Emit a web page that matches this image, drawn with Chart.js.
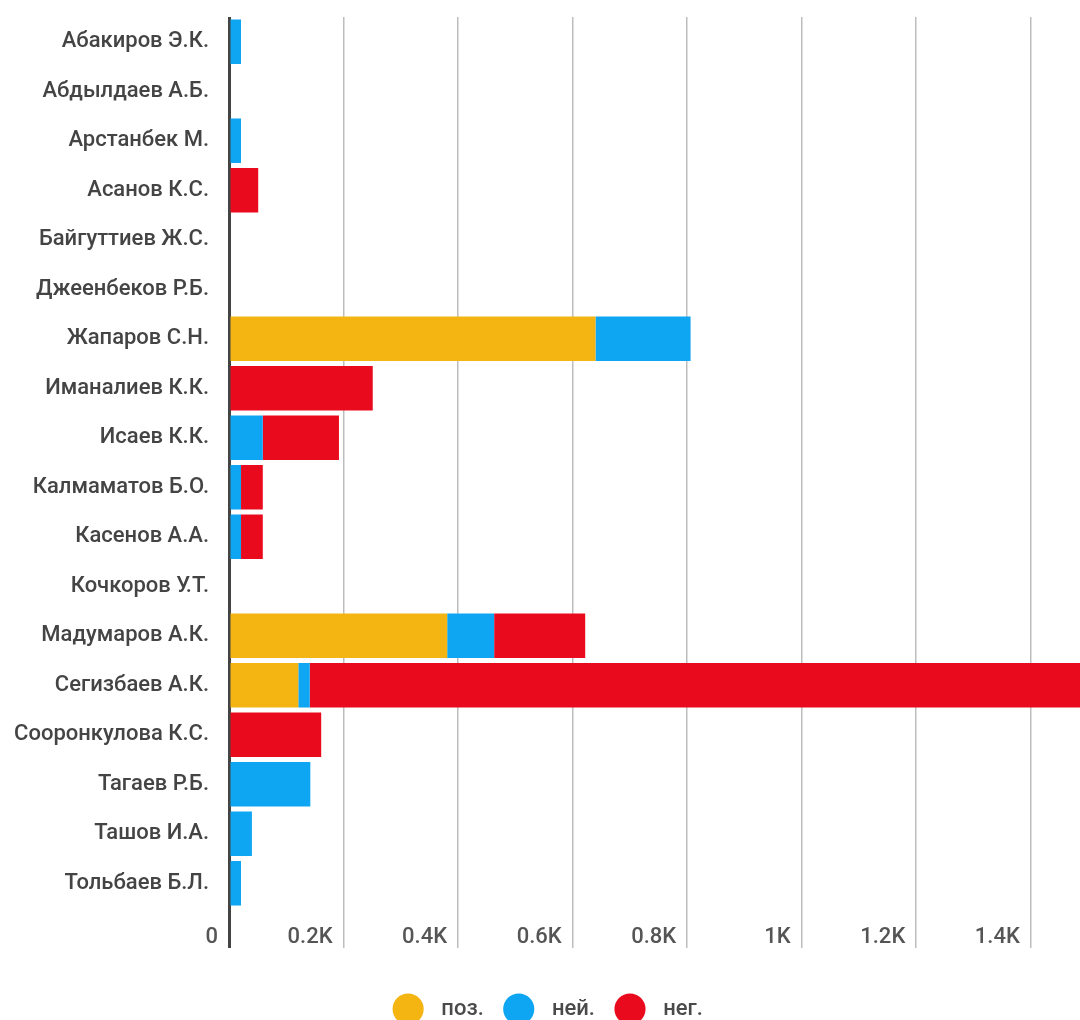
<!DOCTYPE html>
<html>
<head>
<meta charset="utf-8">
<script src="https://cdn.jsdelivr.net/npm/chart.js@4.4.1/dist/chart.umd.min.js"></script>
<style>
  html, body { margin: 0; padding: 0; background: #fff; }
  #wrap { width: 1080px; height: 1020px; }
</style>
</head>
<body>
<div id="wrap"><canvas id="chart" width="1080" height="1020"></canvas></div>
<script>
// Кандидаты и распределение упоминаний по тональности
const candidates = [
  'Абакиров Э.К.', 'Абдылдаев А.Б.', 'Арстанбек М.', 'Асанов К.С.',
  'Байгуттиев Ж.С.', 'Джеенбеков Р.Б.', 'Жапаров С.Н.', 'Иманалиев К.К.',
  'Исаев К.К.', 'Калмаматов Б.О.', 'Касенов А.А.', 'Кочкоров У.Т.',
  'Мадумаров А.К.', 'Сегизбаев А.К.', 'Сооронкулова К.С.', 'Тагаев Р.Б.',
  'Ташов И.А.', 'Тольбаев Б.Л.'
];
const positive = [0, 0, 0, 0, 0, 0, 640, 0, 0, 0, 0, 0, 381, 121, 0, 0, 0, 0];
const neutral  = [21, 0, 21, 0, 0, 0, 166, 0, 59, 21, 21, 0, 82, 20, 0, 142, 40, 21];
const negative = [0, 0, 0, 51, 0, 0, 0, 251, 133, 38, 38, 0, 159, 1500, 161, 0, 0, 0];
const seriesNames = ['поз.', 'ней.', 'нег.'];
const seriesColors = ['#F4B512', '#0EA5F2', '#EA0A1E'];

const axisMax = 1486;
const font = { family: 'Roboto', size: 22, weight: '500' };

function fmtK(v) {
  if (v === 0) return '0';
  return (v / 1000) + 'K';
}

// сдвиг легенды немного вправо от центра
const legendShift = {
  id: 'legendShift',
  afterLayout(chart) {
    chart.legend.left += 10;
    chart.legend.right += 10;
  }
};

new Chart(document.getElementById('chart'), {
  type: 'bar',
  data: {
    labels: candidates,
    datasets: [positive, neutral, negative].map((d, i) => ({
      label: seriesNames[i],
      data: d,
      backgroundColor: seriesColors[i],
      borderWidth: 0,
      categoryPercentage: 0.9,
      barPercentage: 1
    }))
  },
  plugins: [legendShift],
  options: {
    indexAxis: 'y',
    responsive: false,
    animation: false,
    layout: { padding: { top: 17, right: 0, bottom: -10, left: 0 } },
    plugins: {
      tooltip: { enabled: false },
      legend: {
        position: 'bottom',
        labels: {
          usePointStyle: true,
          pointStyle: 'circle',
          boxHeight: 22,
          boxWidth: 22,
          padding: 24,
          color: '#4a4a4a',
          font: font,
          generateLabels(chart) {
            return chart.data.datasets.map((ds, i) => ({
              text: '\u2002' + ds.label,
              fillStyle: ds.backgroundColor,
              strokeStyle: ds.backgroundColor,
              lineWidth: 0,
              pointStyle: 'circle',
              fontColor: '#4a4a4a',
              datasetIndex: i
            }));
          }
        }
      }
    },
    scales: {
      x: {
        stacked: true,
        min: 0,
        max: axisMax,
        afterFit(scale) { scale.height = 66; },
        border: { display: false },
        grid: {
          color: ctx => (ctx.tick && ctx.tick.value === 0) ? '#444' : '#bdbdbd',
          lineWidth: ctx => (ctx.tick && ctx.tick.value === 0) ? 3 : 1.5,
          tickLength: 40
        },
        ticks: {
          stepSize: 200,
          includeBounds: false,
          align: 'end',
          padding: -24,
          maxRotation: 0,
          color: '#555',
          font: font,
          callback: v => fmtK(v) + '  '
        }
      },
      y: {
        stacked: true,
        afterFit(scale) {
          scale.width = 229;
          scale.paddingTop = 0;
          scale.paddingBottom = 0;
        },
        border: { display: false },
        grid: { display: false, drawTicks: false },
        ticks: {
          padding: 20,
          color: '#444',
          font: font,
          autoSkip: false
        }
      }
    }
  }
});
</script>
</body>
</html>
